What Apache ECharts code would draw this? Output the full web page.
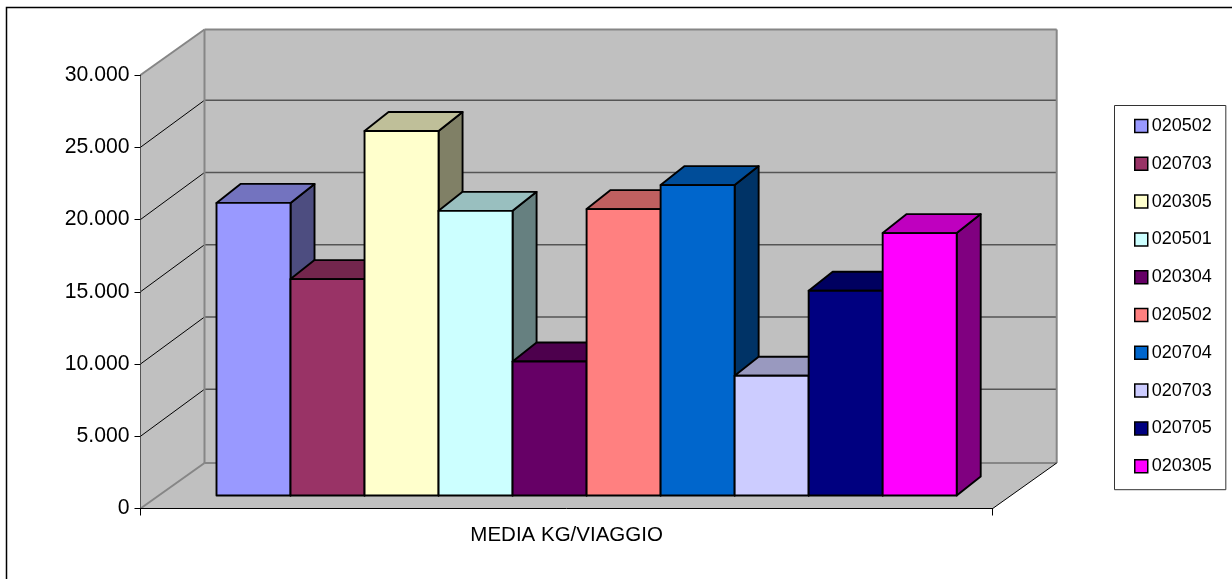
<!DOCTYPE html>
<html>
<head>
<meta charset="utf-8">
<title>Media kg/viaggio</title>
<style>html,body{margin:0;padding:0;background:#fff}#chart{width:1232px;height:579px}</style>
<script src="https://cdn.jsdelivr.net/npm/echarts@6/dist/echarts.min.js"></script>
</head>
<body>
<div id="chart"></div>
<script>
const categories = ['MEDIA KG/VIAGGIO'];
const codes = ['020502','020703','020305','020501','020304','020502','020704','020703','020705','020305'];
const values = [20250,14975,25220,19700,9270,19820,21480,8285,14165,18160];
const colors = ['#9999FF','#993366','#FFFFCC','#CCFFFF','#660066','#FF8080','#0066CC','#CCCCFF','#000080','#FF00FF'];
const yTicks = [0,5000,10000,15000,20000,25000,30000];

// Oblique projection used for the box: how far the back wall sits from the front plane,
// how far the bars stand from it, and how deep each bar is.
const WALL_DX = 64, WALL_DY = -45.5, GRID_DY = -47;
const BAR_FRONT_DY = -13, BAR_LEFT_INSET = 76, BAR_W = 74.02;
const BAR_DX = 24, BAR_DY = -19;

const shade = (hex, k) => {
  const n = parseInt(hex.slice(1), 16);
  const c = [n >> 16 & 255, n >> 8 & 255, n & 255].map(v => Math.round(v * k));
  return `rgb(${c[0]},${c[1]},${c[2]})`;
};
const thousands = v => String(v).replace(/\B(?=(\d{3})+$)/g, '.');

function renderWalls(params, api) {
  const band = api.size([1, 0])[0];
  const cx = api.coord([0, 0])[0];
  const L = cx - band / 2, R = cx + band / 2;
  const y0 = api.coord([0, yTicks[0]])[1];
  const yT = api.coord([0, yTicks[yTicks.length - 1]])[1];
  const backL = L + WALL_DX, backR = R + WALL_DX;
  const wallFill = { fill: '#C0C0C0', stroke: null };
  const poly = (points, style) => ({ type: 'polygon', shape: { points }, style });
  const line = (a, b, stroke, lineWidth) => ({
    type: 'line',
    shape: { x1: a[0], y1: a[1], x2: b[0], y2: b[1] },
    style: { stroke, lineWidth, fill: null }
  });
  const children = [
    poly([[backL, yT + WALL_DY], [backR, yT + WALL_DY], [backR, y0 + WALL_DY], [backL, y0 + WALL_DY]], wallFill),
    poly([[L, yT], [backL, yT + WALL_DY], [backL, y0 + WALL_DY], [L, y0]], wallFill),
    poly([[L, y0], [backL, y0 + WALL_DY], [backR, y0 + WALL_DY], [R, y0]], wallFill)
  ];
  yTicks.slice(1, -1).forEach(t => {
    const y = api.coord([0, t])[1];
    children.push(line([L, y], [backL, y + GRID_DY], '#000', 1));
    children.push(line([backL, y + GRID_DY], [backR, y + GRID_DY], '#555', 1.4));
  });
  const edge = '#868686';
  children.push(
    line([backL, yT + WALL_DY], [backR, yT + WALL_DY], edge, 2),
    line([backR, yT + WALL_DY], [backR, y0 + WALL_DY], edge, 2),
    line([backL, yT + WALL_DY], [backL, y0 + WALL_DY], edge, 2),
    line([backL, y0 + WALL_DY], [backR, y0 + WALL_DY], edge, 2),
    line([L, yT], [backL, yT + WALL_DY], edge, 2),
    line([L, y0], [backL, y0 + WALL_DY], edge, 2),
    line([R, y0], [backR, y0 + WALL_DY], '#000', 1)
  );
  return { type: 'group', children };
}

function makeBarRenderer(i) {
  return function (params, api) {
    const band = api.size([1, 0])[0];
    const base = api.coord([0, 0]);
    const top = api.coord([0, api.value(1)]);
    const x0 = base[0] - band / 2 + BAR_LEFT_INSET + i * BAR_W;
    const x1 = x0 + BAR_W;
    const yB = base[1] + BAR_FRONT_DY;
    const yT = top[1] + BAR_FRONT_DY;
    const outline = { stroke: '#000', lineWidth: 1.9, lineJoin: 'round' };
    const face = (points, fill) => ({
      type: 'polygon', shape: { points }, style: Object.assign({ fill }, outline)
    });
    return {
      type: 'group',
      children: [
        face([[x1, yB], [x1 + BAR_DX, yB + BAR_DY], [x1 + BAR_DX, yT + BAR_DY], [x1, yT]], shade(colors[i], 0.5)),
        face([[x0, yT], [x0 + BAR_DX, yT + BAR_DY], [x1 + BAR_DX, yT + BAR_DY], [x1, yT]], shade(colors[i], 0.75)),
        face([[x0, yB], [x1, yB], [x1, yT], [x0, yT]], colors[i])
      ]
    };
  };
}

const seriesNames = codes.map((c, i) => c + '#' + i);
const axisFont = { fontFamily: 'Liberation Sans', color: '#000' };

const option = {
  animation: false,
  backgroundColor: '#fff',
  textStyle: { fontFamily: 'Liberation Sans' },
  grid: { left: 140.5, top: 75, width: 852.2, height: 433.5 },
  xAxis: {
    type: 'category',
    data: categories,
    z: 5,
    axisLine: { lineStyle: { color: '#000', width: 1 } },
    axisTick: { show: true, length: 7, lineStyle: { color: '#000', width: 1 } },
    axisLabel: Object.assign({ fontSize: 20.5, margin: 16 }, axisFont),
    splitLine: { show: false }
  },
  yAxis: {
    type: 'value',
    min: 0,
    max: 30000,
    interval: 5000,
    z: 5,
    axisLine: { show: true, lineStyle: { color: '#555', width: 1 } },
    axisTick: { show: true, length: 6, lineStyle: { color: '#000', width: 1 } },
    axisLabel: Object.assign({ fontSize: 21.2, margin: 11, formatter: thousands }, axisFont),
    splitLine: { show: false }
  },
  legend: {
    orient: 'vertical',
    left: 1114.5,
    top: 105.5,
    padding: [11.5, 14, 14.5, 19.5],
    itemWidth: 13,
    itemHeight: 13,
    itemGap: 19.8,
    selectedMode: false,
    backgroundColor: '#fff',
    borderColor: '#333',
    borderWidth: 1,
    textStyle: { fontFamily: 'Liberation Sans', fontSize: 18, color: '#000', padding: [0, 0, 0, -1], lineHeight: 13 },
    formatter: name => name.split('#')[0],
    data: seriesNames.map((name, i) => ({
      name,
      icon: 'rect',
      itemStyle: { color: colors[i], borderColor: '#000', borderWidth: 1.5 }
    }))
  },
  graphic: [{
    type: 'rect',
    silent: true,
    z: 10,
    shape: { x: 6.5, y: 7.5, width: 1400, height: 800 },
    style: { fill: null, stroke: '#000', lineWidth: 1.5 }
  }],
  series: [
    { type: 'custom', name: 'pareti', data: [[0, 0]], encode: { x: 0, y: 1 }, z: 1, renderItem: renderWalls, silent: true }
  ].concat(values.map((v, i) => ({
    type: 'custom',
    name: seriesNames[i],
    data: [[0, v]],
    encode: { x: 0, y: 1 },
    z: 2,
    renderItem: makeBarRenderer(i)
  })))
};

echarts.init(document.getElementById('chart'), null, { renderer: 'canvas' }).setOption(option);
</script>
</body>
</html>
